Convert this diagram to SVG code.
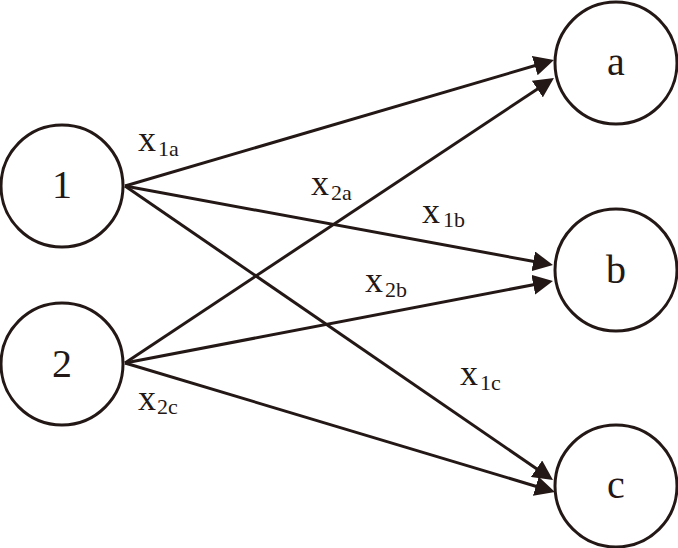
<svg xmlns="http://www.w3.org/2000/svg" width="678" height="548" viewBox="0 0 678 548">
<style>
.node{fill:#fff;stroke:#231815;stroke-width:3}
.nl{font-family:"Liberation Serif","Times New Roman",serif;font-size:40px;fill:#231815;text-anchor:middle}
.edge{stroke:#231815;stroke-width:3;fill:none;marker-end:url(#ah)}
.el{font-family:"Liberation Serif","Times New Roman",serif;font-size:36px;fill:#231815}
.sub{font-size:22px}
</style>
<defs>
<marker id="ah" markerUnits="userSpaceOnUse" markerWidth="20" markerHeight="20" refX="12" refY="10" orient="auto">
<path d="M0,0 L20,10 L0,20 z" fill="#231815"/>
</marker>
</defs>
<g id="connectors">
<line class="edge" x1="125" y1="186" x2="546.3" y2="62.3"/>
<line class="edge" x1="125" y1="186" x2="545.1" y2="263.5"/>
<line class="edge" x1="125" y1="186" x2="546.4" y2="475.5"/>
<line class="edge" x1="125" y1="363" x2="547.3" y2="82.4"/>
<line class="edge" x1="125" y1="363" x2="545.1" y2="282.5"/>
<line class="edge" x1="125" y1="363" x2="547.3" y2="489.7"/>
</g>
<g id="labels">
<text class="el" x="138" y="151">x<tspan class="sub" x="158" y="156">1a</tspan></text>
<text class="el" x="311" y="195">x<tspan class="sub" x="331" y="200">2a</tspan></text>
<text class="el" x="422" y="223">x<tspan class="sub" x="443" y="227">1b</tspan></text>
<text class="el" x="365" y="292">x<tspan class="sub" x="385" y="297">2b</tspan></text>
<text class="el" x="460" y="385">x<tspan class="sub" x="480" y="390">1c</tspan></text>
<text class="el" x="138" y="410">x<tspan class="sub" x="157" y="414">2c</tspan></text>
</g>
<g id="node-1"><circle class="node" cx="62" cy="186" r="61"/><text class="nl" x="62" y="198">1</text></g>
<g id="node-2"><circle class="node" cx="62" cy="364" r="61"/><text class="nl" x="62" y="377">2</text></g>
<g id="node-a"><circle class="node" cx="616" cy="63" r="61"/><text class="nl" x="616" y="75">a</text></g>
<g id="node-b"><circle class="node" cx="616" cy="270" r="61"/><text class="nl" x="616" y="283">b</text></g>
<g id="node-c"><circle class="node" cx="616" cy="486" r="61"/><text class="nl" x="616" y="498">c</text></g>
</svg>
